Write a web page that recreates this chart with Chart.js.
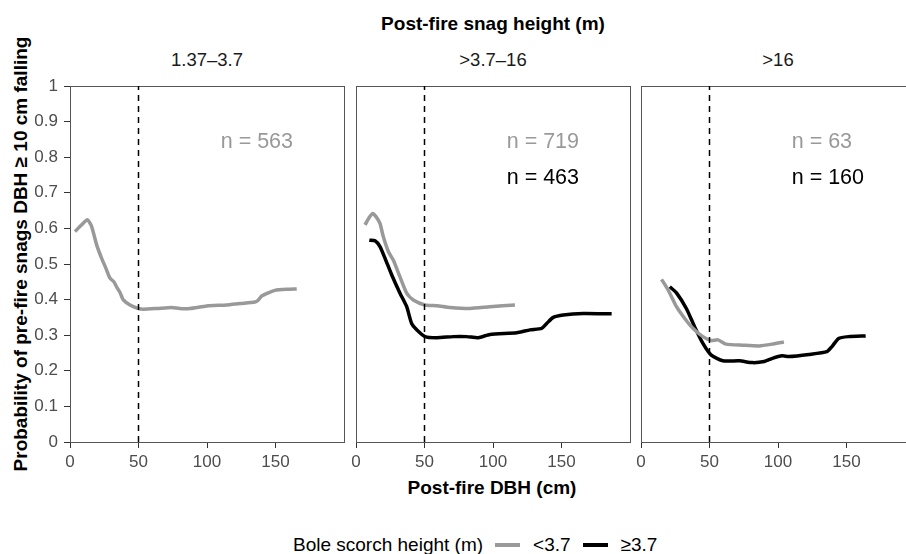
<!DOCTYPE html>
<html>
<head>
<meta charset="utf-8">
<script src="https://cdn.jsdelivr.net/npm/chart.js@4"></script>
<style>
  html, body { margin: 0; padding: 0; background: #fff; }
  body { width: 906px; height: 554px; position: relative; overflow: hidden; font-family: 'Liberation Sans', Arial, sans-serif; }
  canvas { position: absolute; }
  .txt { position: absolute; white-space: nowrap; line-height: 1; transform: translate(-50%, -50%); color: #000; }
  .bold { font-weight: bold; font-size: 19px; }
  .strip { font-size: 18.5px; color: #1a1a1a; }
  .legend { position: absolute; left: 293px; top: 535px; font-size: 19px; line-height: 20px; white-space: nowrap; display: flex; align-items: center; }
  .swatch { display: inline-block; width: 25px; height: 4px; margin: 0 13px 0 12px; }
</style>
</head>
<body>

<div class="txt bold" style="left:493px; top:23px;">Post-fire snag height (m)</div>
<div class="txt strip" style="left:207px; top:60px;" id="strip0"></div>
<div class="txt strip" style="left:493px; top:60px;" id="strip1"></div>
<div class="txt strip" style="left:778px; top:60px;" id="strip2"></div>
<div class="txt bold" style="left:20px; top:254px; transform: translate(-50%, -50%) rotate(-90deg);">Probability of pre-fire snags DBH ≥ 10 cm falling</div>
<div class="txt bold" style="left:492px; top:487px;">Post-fire DBH (cm)</div>
<div class="legend">
  <span>Bole scorch height (m)</span>
  <span class="swatch" style="background:#999999"></span><span>&lt;3.7</span>
  <span class="swatch" style="background:#000000"></span><span>≥3.7</span>
</div>

<canvas id="panel0" width="356" height="406" style="left:0px; top:66px;"></canvas>
<canvas id="panel1" width="304" height="406" style="left:341px; top:66px;"></canvas>
<canvas id="panel2" width="304" height="406" style="left:626px; top:66px;"></canvas>

<script>
// Paineis (altura do snag pos-fogo)
const panelLabels = ['1.37–3.7', '>3.7–16', '>16'];
const xTickValues = [0, 50, 100, 150];
const yTickValues = [0, 0.1, 0.2, 0.3, 0.4, 0.5, 0.6, 0.7, 0.8, 0.9, 1];
const dbhCutoff = 50;

// n por grupo de altura de chamuscamento
const nLow = [563, 719, 63];
const nHigh = [null, 463, 160];

// Painel 1 - escorch < 3.7
const p1LowX = [3.6, 8, 12.7, 15.8, 19.5, 23.1, 26, 29.2, 32, 34, 36.5, 38.9, 43.8, 49.9, 53.5, 63.3, 74.2, 80, 87.6, 99.8, 114.4, 124, 135, 137.5, 139.9, 144.8, 149.6, 158.2, 165.5];
const p1LowY = [0.591, 0.608, 0.624, 0.605, 0.553, 0.516, 0.49, 0.46, 0.45, 0.436, 0.42, 0.399, 0.385, 0.375, 0.373, 0.375, 0.378, 0.375, 0.375, 0.382, 0.385, 0.389, 0.393, 0.399, 0.41, 0.419, 0.426, 0.429, 0.43];

// Painel 2
const p2LowX = [6.6, 9.5, 12.2, 14.6, 17.5, 19.9, 23.6, 27.2, 32.1, 37, 41.8, 50.4, 58.9, 68.6, 83.2, 97.8, 116];
const p2LowY = [0.61, 0.63, 0.642, 0.633, 0.614, 0.577, 0.535, 0.511, 0.464, 0.418, 0.399, 0.385, 0.383, 0.378, 0.375, 0.38, 0.385];
const p2HighX = [9.7, 13.9, 17.5, 21.2, 26.1, 32.1, 37, 40.6, 44.3, 50.4, 58.9, 71, 80.8, 89.3, 97.8, 117.3, 127, 135.5, 139.2, 144, 151.3, 165.9, 186.6];
const p2HighY = [0.567, 0.565, 0.549, 0.516, 0.469, 0.418, 0.38, 0.333, 0.315, 0.296, 0.293, 0.296, 0.296, 0.293, 0.302, 0.307, 0.315, 0.319, 0.333, 0.35, 0.357, 0.361, 0.36];

// Painel 3
const p3LowX = [15, 19.8, 25.9, 31.9, 38, 45.2, 51.3, 56.2, 62.1, 74.2, 86.2, 95.9, 104.3];
const p3LowY = [0.457, 0.427, 0.38, 0.347, 0.319, 0.296, 0.285, 0.287, 0.275, 0.272, 0.27, 0.275, 0.281];
const p3HighX = [21, 25.9, 33.1, 39.1, 45.2, 51.3, 59.7, 71.8, 81.4, 89.9, 95.9, 103.1, 107.9, 122.5, 135.7, 139.4, 144.2, 151.4, 164];
const p3HighY = [0.436, 0.419, 0.375, 0.324, 0.277, 0.244, 0.228, 0.228, 0.223, 0.226, 0.235, 0.242, 0.24, 0.246, 0.254, 0.268, 0.291, 0.296, 0.298];

// posicao dos textos n (unidades dos dados)
const nLabelX = 110;
const nLabelY = [0.843, 0.74];

// onde cada area de plotagem deve ficar na pagina
const panelLeft = [70, 356, 641];
const panelTop = 86;

const GRAY = '#999999';
const BLACK = '#000000';
const FRAME = '#555555';

Chart.defaults.font.family = "'Liberation Sans', Arial, sans-serif";

panelLabels.forEach((txt, i) => { document.getElementById('strip' + i).textContent = txt; });

function toPoints(xs, ys) {
    return xs.map((x, i) => ({ x: x, y: ys[i] }));
}

// textos n dentro de cada painel
const nLabelPlugin = {
    id: 'nLabels',
    afterDatasetsDraw(chart) {
        const ctx = chart.ctx;
        const idx = chart.options.plugins.nLabels.index;
        const xs = chart.scales.x, ys = chart.scales.y;
        ctx.save();
        ctx.font = "21.5px 'Liberation Sans', Arial, sans-serif";
        ctx.textAlign = 'left';
        ctx.textBaseline = 'middle';
        ctx.fillStyle = GRAY;
        ctx.fillText('n = ' + nLow[idx], xs.getPixelForValue(nLabelX), ys.getPixelForValue(nLabelY[0]));
        if (nHigh[idx] !== null) {
            ctx.fillStyle = BLACK;
            ctx.fillText('n = ' + nHigh[idx], xs.getPixelForValue(nLabelX), ys.getPixelForValue(nLabelY[1]));
        }
        ctx.restore();
    }
};

// eixos extras so para fechar a moldura do painel
function frameScale(axis, position) {
    return {
        type: 'linear',
        axis: axis,
        position: position,
        min: axis === 'x' ? 0 : 0,
        max: axis === 'x' ? 200 : 1,
        display: true,
        ticks: { display: false },
        grid: { display: false, drawTicks: false },
        border: { display: true, color: FRAME, width: 1 },
        afterFit: scale => { if (axis === 'x') scale.height = 0; else scale.width = 0; }
    };
}

function buildPanel(idx, series, showY) {
    const datasets = [{
        data: [{ x: dbhCutoff, y: 0 }, { x: dbhCutoff, y: 1 }],
        borderColor: BLACK,
        borderWidth: 1.5,
        borderDash: [6, 5],
        pointRadius: 0
    }];
    series.forEach(s => {
        datasets.push({
            data: toPoints(s.x, s.y),
            borderColor: s.color,
            borderWidth: 3.5,
            pointRadius: 0,
            tension: 0.2,
            borderCapStyle: 'butt',
            borderJoinStyle: 'round'
        });
    });

    const canvas = document.getElementById('panel' + idx);
    const chart = new Chart(canvas, {
        type: 'line',
        data: { datasets: datasets },
        options: {
            responsive: false,
            animation: false,
            layout: { padding: { top: 20, bottom: 0, left: showY ? 0 : 15, right: showY ? 12 : 15 } },
            plugins: {
                legend: { display: false },
                tooltip: { enabled: false },
                nLabels: { index: idx }
            },
            scales: {
                x: {
                    type: 'linear',
                    min: 0,
                    max: 200,
                    afterBuildTicks: scale => { scale.ticks = xTickValues.map(v => ({ value: v })); },
                    afterFit: scale => { scale.height = 30; },
                    grid: { drawOnChartArea: false, tickLength: 6, color: '#333333' },
                    border: { display: true, color: FRAME, width: 1 },
                    ticks: { color: '#4d4d4d', font: { size: 17 }, padding: 4, maxRotation: 0 }
                },
                y: {
                    type: 'linear',
                    min: 0,
                    max: 1,
                    display: true,
                    afterBuildTicks: scale => { scale.ticks = yTickValues.map(v => ({ value: v })); },
                    afterFit: scale => { scale.width = showY ? 70 : 0; },
                    grid: { display: showY, drawOnChartArea: false, tickLength: 6, color: '#333333' },
                    border: { display: true, color: FRAME, width: 1 },
                    ticks: {
                        display: showY,
                        color: '#4d4d4d',
                        font: { size: 17 },
                        padding: 6,
                        callback: v => String(Math.round(v * 10) / 10)
                    }
                },
                xTop: frameScale('x', 'top'),
                yRight: frameScale('y', 'right')
            }
        },
        plugins: [nLabelPlugin]
    });

    // encaixa a area de plotagem na posicao certa da pagina
    const a = chart.chartArea;
    canvas.style.left = (panelLeft[idx] - a.left) + 'px';
    canvas.style.top = (panelTop - a.top) + 'px';
    return chart;
}

buildPanel(0, [{ x: p1LowX, y: p1LowY, color: GRAY }], true);
buildPanel(1, [{ x: p2LowX, y: p2LowY, color: GRAY }, { x: p2HighX, y: p2HighY, color: BLACK }], false);
buildPanel(2, [{ x: p3LowX, y: p3LowY, color: GRAY }, { x: p3HighX, y: p3HighY, color: BLACK }], false);
</script>
</body>
</html>
